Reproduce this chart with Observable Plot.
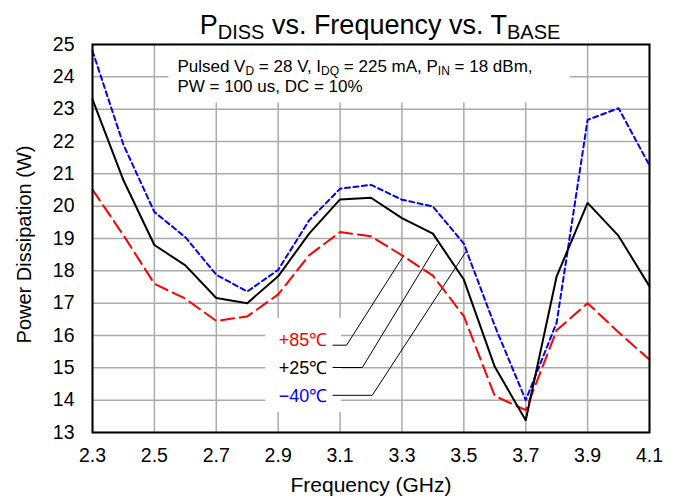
<!DOCTYPE html>
<html>
<head>
<meta charset="utf-8">
<script src="https://cdn.jsdelivr.net/npm/d3@7"></script>
<script src="https://cdn.jsdelivr.net/npm/@observablehq/plot@0.6"></script>
<style>
  html, body { margin: 0; padding: 0; background: white; }
  #chart svg { display: block; }
</style>
</head>
<body>
<div id="chart"></div>
<script>
// ---- data ----
const freq   = [2.3, 2.4, 2.5, 2.6, 2.7, 2.8, 2.9, 3.0, 3.1, 3.2, 3.3, 3.4, 3.5, 3.6, 3.7, 3.8, 3.9, 4.0, 4.1];
const p85    = [20.51, 19.1, 17.6, 17.14, 16.45, 16.59, 17.27, 18.48, 19.2, 19.07, 18.48, 17.85, 16.6, 14.13, 13.69, 16.16, 17.0, 16.1, 15.25];
const p25    = [23.3, 20.8, 18.8, 18.17, 17.16, 17.0, 17.83, 19.15, 20.21, 20.26, 19.63, 19.15, 17.73, 15.03, 13.38, 17.83, 20.1, 19.08, 17.52];
const pm40   = [24.8, 21.9, 19.82, 19.04, 17.88, 17.36, 18.03, 19.56, 20.54, 20.66, 20.2, 19.99, 18.84, 16.3, 14.0, 16.4, 22.67, 23.03, 21.26];
const xTicks = [2.3, 2.5, 2.7, 2.9, 3.1, 3.3, 3.5, 3.7, 3.9, 4.1];
const yTicks = [13, 14, 15, 16, 17, 18, 19, 20, 21, 22, 23, 24, 25];
const seriesNames = ["+85℃", "+25℃", "−40℃"];
const seriesColors = ["#ff0000", "#000000", "#0000ff"];
// label anchor points (frequency, W) and leader line vertices
const labelX = [3.059, 3.059, 3.059];
const labelY = [15.85, 14.99, 14.13];
const leader85 = {x: [3.077, 3.121, 3.306], y: [15.70, 15.70, 18.48]};
const leader25 = {x: [3.077, 3.172, 3.414], y: [15.01, 15.01, 18.82]};
const leader40 = {x: [3.077, 3.204, 3.506], y: [14.15, 14.15, 18.58]};
// white background areas (data units)
const noteBox  = {x1: 2.547, x2: 3.843, y1: 23.19, y2: 25};
const labelBox = {x1: 2.86, x2: 3.105, y1: 13.62, y2: 16.53};

// ---- build tables ----
const rows = [];
[p85, p25, pm40].forEach((arr, k) => arr.forEach((v, i) => rows.push({f: freq[i], p: v, s: seriesNames[k]})));
const leaders = [];
[leader85, leader25, leader40].forEach((L, k) => L.x.forEach((x, i) => leaders.push({x, y: L.y[i], k})));
const labels = seriesNames.map((s, k) => ({s, x: labelX[k], y: labelY[k], c: seriesColors[k]}));

const font = "'Liberation Sans', Arial, Helvetica, sans-serif";

const chart = Plot.plot({
  width: 673,
  height: 498,
  marginTop: 44,
  marginLeft: 92,
  marginRight: 24,
  marginBottom: 66,
  style: {fontFamily: font, fontSize: "18px", color: "black", background: "white", overflow: "visible"},
  x: {domain: [2.3, 4.1], label: null},
  y: {domain: [13, 25], label: null},
  marks: [
    Plot.gridX(xTicks, {stroke: "#aaaaaa", strokeOpacity: 1, strokeWidth: 1.5}),
    Plot.gridY(yTicks, {stroke: "#aaaaaa", strokeOpacity: 1, strokeWidth: 1.5}),
    Plot.rect([noteBox], {x1: "x1", x2: "x2", y1: "y1", y2: "y2", fill: "white"}),
    Plot.rect([labelBox], {x1: "x1", x2: "x2", y1: "y1", y2: "y2", fill: "white"}),
    Plot.line(leaders, {x: "x", y: "y", z: "k", stroke: "black", strokeWidth: 1}),
    Plot.line(rows.filter(d => d.s === seriesNames[0]), {x: "f", y: "p", stroke: seriesColors[0], strokeWidth: 2, strokeDasharray: "13,6"}),
    Plot.line(rows.filter(d => d.s === seriesNames[2]), {x: "f", y: "p", stroke: seriesColors[2], strokeWidth: 2, strokeDasharray: "5,3.5"}),
    Plot.line(rows.filter(d => d.s === seriesNames[1]), {x: "f", y: "p", stroke: seriesColors[1], strokeWidth: 2}),
    Plot.text(labels, {x: "x", y: "y", text: "s", fill: "c", textAnchor: "end", fontSize: 18}),
    Plot.frame({stroke: "black", strokeWidth: 2}),
    Plot.axisX(xTicks, {tickSize: 0, tickPadding: 16, fontSize: 19.5, tickFormat: d3.format(".1f"), label: null}),
    Plot.axisY(yTicks, {tickSize: 0, tickPadding: 18, fontSize: 19.5, label: null}),
    Plot.text(["Frequency (GHz)"], {frameAnchor: "bottom", textAnchor: "middle", lineAnchor: "middle", dy: 53, fontSize: 21}),
    Plot.text(["Power Dissipation (W)"], {frameAnchor: "left", textAnchor: "middle", lineAnchor: "middle", dx: -68, dy: 6, rotate: -90, fontSize: 20})
  ]
});

document.getElementById("chart").appendChild(chart);

// ---- title and note with subscripts ----
const svg = d3.select(chart);
const xs = chart.scale("x");
// parts: [text, isSubscript]; the text after a subscript is shifted back up
const rich = (sel, parts, big, small, shift) => {
  let prevSub = false;
  parts.forEach(([t, isSub]) => {
    const dy = isSub ? (prevSub ? 0 : shift) : (prevSub ? -shift : 0);
    sel.append("tspan").attr("font-size", isSub ? small : big).attr("dy", dy).text(t);
    prevSub = isSub;
  });
};
const title = svg.append("text")
  .attr("x", 380).attr("y", 34)
  .attr("text-anchor", "middle")
  .attr("font-family", font).attr("font-size", 27).attr("fill", "black");
rich(title, [["P", false], ["DISS", true], [" vs. Frequency vs. T", false], ["BASE", true]], 27, 20, 5);

const noteX = xs.apply(2.576);
const l1 = svg.append("text").attr("x", noteX).attr("y", 71.5)
  .attr("text-anchor", "start")
  .attr("font-family", font).attr("font-size", 17).attr("fill", "black");
rich(l1, [["Pulsed V", false], ["D", true], [" = 28 V, I", false], ["DQ", true], [" = 225 mA, P", false], ["IN", true], [" = 18 dBm,", false]], 17, 12, 3);
svg.append("text").attr("x", noteX).attr("y", 91.5)
  .attr("text-anchor", "start")
  .attr("font-family", font).attr("font-size", 17).attr("fill", "black")
  .text("PW = 100 us, DC = 10%");
</script>
</body>
</html>
